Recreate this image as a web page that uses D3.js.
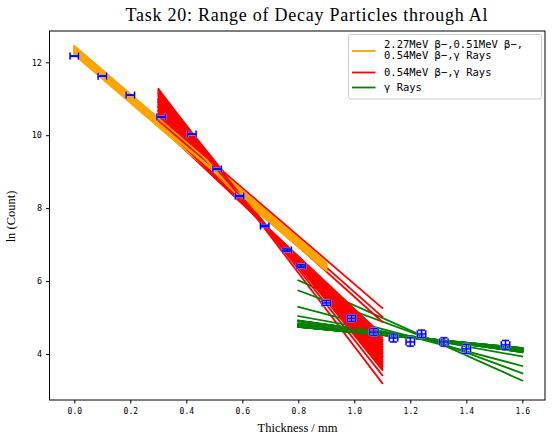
<!DOCTYPE html>
<html><head><meta charset="utf-8">
<script src="https://cdn.jsdelivr.net/npm/d3@7"></script>
<style>html,body{margin:0;padding:0;background:#fff;}</style>
</head><body>
<svg id="chart" width="555" height="446"></svg>
<script>
// ---- data ----
const thickness = [0.00,0.10,0.20,0.31,0.42,0.51,0.59,0.68,0.76,0.81,0.90,0.99,1.07,1.14,1.20,1.24,1.32,1.40,1.54];
const lnCount   = [12.17,11.62,11.10,10.50,10.03,9.07,8.33,7.51,6.85,6.41,5.40,4.98,4.60,4.44,4.33,4.55,4.33,4.14,4.25];
const xErr      = [0.015,0.015,0.015,0.015,0.015,0.015,0.015,0.015,0.015,0.015,0.015,0.015,0.015,0.015,0.015,0.015,0.015,0.015,0.015];
const yErr      = [0.002,0.003,0.004,0.005,0.007,0.011,0.016,0.023,0.033,0.041,0.067,0.083,0.10,0.11,0.115,0.103,0.115,0.126,0.12];

// fit-line samples: value at start and end of each fit range
const orangeRange = [0.0, 0.9];
const orangeStart = [12.45,12.40,12.36,12.33,12.30,12.28,12.26,12.24,12.22,12.38,12.34,12.31,12.29,12.27,12.25,12.43,12.35,12.32,12.30,12.28,12.37,12.26,12.33,12.29,12.41,12.23,12.31,12.35,12.27,12.39,12.30,12.34,12.21,12.44,12.32,12.29];
const orangeEnd   = [6.50,6.46,6.42,6.39,6.36,6.34,6.31,6.30,6.28,6.43,6.40,6.36,6.33,6.33,6.30,6.48,6.41,6.38,6.35,6.32,6.42,6.31,6.39,6.34,6.47,6.29,6.37,6.40,6.31,6.44,6.36,6.38,6.28,6.51,6.37,6.35];

const redRange = [0.3, 1.1];
const redStart = [11.27,11.18,11.22,11.10,11.05,10.98,10.92,10.88,10.84,10.80,10.76,10.72,10.68,10.64,10.60,10.56,10.52,10.48,10.44,10.40,10.36,10.32,10.28,10.53,10.45,10.40,11.00,10.90,10.78,10.66,10.58,10.50,10.46,10.38,11.14,10.95];
const redEnd   = [3.20,3.42,3.56,3.62,3.70,3.74,3.80,3.86,3.90,3.95,3.98,4.02,4.06,4.10,4.14,4.18,4.22,4.26,4.30,4.35,4.40,4.46,4.52,5.26,5.02,4.88,3.66,3.84,3.93,4.04,4.12,4.20,4.28,4.38,3.58,3.78];

const greenRange = [0.8, 1.6];
const greenStart = [6.02,5.74,5.29,5.04,4.91,4.91,4.90,4.82,4.83,4.82,4.81,4.76,4.75,4.76,4.75,4.74,4.82,4.91,4.90,4.83,4.76,4.75,4.92,4.76,4.82,4.81,4.90,4.75,4.76,4.83,4.74,4.82,4.91,4.75,4.81,4.75];
const greenEnd   = [3.27,3.47,3.67,3.93,4.05,4.06,4.07,4.08,4.10,4.11,4.12,4.13,4.14,4.15,4.16,4.14,4.09,4.06,4.07,4.10,4.13,4.15,4.05,4.16,4.09,4.11,4.06,4.15,4.14,4.10,4.16,4.11,4.05,4.14,4.12,4.16];

const xTicks = [0.0,0.2,0.4,0.6,0.8,1.0,1.2,1.4,1.6];
const yTicks = [4,6,8,10,12];

const legendItems = [
  {color:"#ffa500", lines:["2.27MeV β−,0.51MeV β−,","0.54MeV β−,γ Rays"]},
  {color:"#ff0000", lines:["0.54MeV β−,γ Rays"]},
  {color:"#008000", lines:["γ Rays"]}
];

// ---- layout ----
const L = 49.5, R = 545, T = 31, B = 400;
const x = d3.scaleLinear().domain([-0.0886, 1.681]).range([L, R]);
const y = d3.scaleLinear().domain([2.738, 12.858]).range([B, T]);

const svg = d3.select("#chart");
const mono = "'DejaVu Sans Mono', monospace";
const serif = "'Liberation Serif', 'Times New Roman', serif";

// fit lines interleaved per sample
const gLines = svg.append("g").attr("fill","none").attr("stroke-width",1.8).attr("stroke-linecap","square");
const n = orangeStart.length;
for (let i = 0; i < n; i++) {
  gLines.append("line")
    .attr("x1", x(orangeRange[0])).attr("y1", y(orangeStart[i]))
    .attr("x2", x(orangeRange[1])).attr("y2", y(orangeEnd[i]))
    .attr("stroke", "#ffa500");
  gLines.append("line")
    .attr("x1", x(redRange[0])).attr("y1", y(redStart[i]))
    .attr("x2", x(redRange[1])).attr("y2", y(redEnd[i]))
    .attr("stroke", "#ff0000");
  gLines.append("line")
    .attr("x1", x(greenRange[0])).attr("y1", y(greenStart[i]))
    .attr("x2", x(greenRange[1])).attr("y2", y(greenEnd[i]))
    .attr("stroke", "#008000");
}

// error bars
const cap = 3.5;
const pts = thickness.map((t,i)=>({x:t,y:lnCount[i],xe:xErr[i],ye:yErr[i]}));
function drawErr(g, color, w) {
  pts.forEach(p => {
    const cx = x(p.x), cy = y(p.y);
    const x0 = x(p.x - p.xe), x1 = x(p.x + p.xe);
    const y0 = y(p.y - p.ye), y1 = y(p.y + p.ye);
    const segs = [
      [x0,cy,x1,cy],[x0,cy-cap,x0,cy+cap],[x1,cy-cap,x1,cy+cap],
      [cx,y0,cx,y1],[cx-cap,y0,cx+cap,y0],[cx-cap,y1,cx+cap,y1]
    ];
    segs.forEach(s => g.append("line").attr("x1",s[0]).attr("y1",s[1]).attr("x2",s[2]).attr("y2",s[3])
      .attr("stroke",color).attr("stroke-width",w));
  });
}
drawErr(svg.append("g"), "#a8a8ff", 2.2);
drawErr(svg.append("g"), "#0000ff", 1.3);

// frame
svg.append("rect").attr("x",L).attr("y",T).attr("width",R-L).attr("height",B-T)
  .attr("fill","none").attr("stroke","#000").attr("stroke-width",1);

// axes
const xAxis = d3.axisBottom(x).tickValues(xTicks).tickFormat(d3.format(".1f")).tickSize(3.5).tickPadding(5);
const gx = svg.append("g").attr("transform",`translate(0,${B})`).call(xAxis);
gx.select(".domain").remove();
gx.selectAll("text").attr("font-family",mono).attr("font-size","8px").attr("fill","#000");
gx.selectAll("line").attr("stroke","#000");

const yAxis = d3.axisLeft(y).tickValues(yTicks).tickFormat(d3.format("d")).tickSize(3.5).tickPadding(4);
const gy = svg.append("g").attr("transform",`translate(${L},0)`).call(yAxis);
gy.select(".domain").remove();
gy.selectAll("text").attr("font-family",mono).attr("font-size","8.5px").attr("fill","#000");
gy.selectAll("line").attr("stroke","#000");

// labels
svg.append("text").attr("x",306.5).attr("y",20.5).attr("text-anchor","middle")
  .attr("font-family",serif).attr("font-size","18px")
  .attr("textLength",362).attr("lengthAdjust","spacing")
  .text("Task 20: Range of Decay Particles through Al");
svg.append("text").attr("x",297.5).attr("y",432).attr("text-anchor","middle")
  .attr("font-family",serif).attr("font-size","12.5px").text("Thickness / mm");
svg.append("text").attr("transform","translate(15,216.5) rotate(-90)").attr("text-anchor","middle")
  .attr("font-family",serif).attr("font-size","12.5px").text("ln (Count)");

// legend
const lg = svg.append("g");
lg.append("rect").attr("x",348.5).attr("y",34.5).attr("width",193).attr("height",64.5).attr("rx",2.5)
  .attr("fill","#fff").attr("fill-opacity",0.8).attr("stroke","#cccccc").attr("stroke-width",1);
const entryY = [{ty:[47.5,58.5], ly:51}, {ty:[76], ly:72.5}, {ty:[91], ly:87.5}];
legendItems.forEach((it,i) => {
  lg.append("line").attr("x1",352).attr("x2",375.5).attr("y1",entryY[i].ly).attr("y2",entryY[i].ly)
    .attr("stroke",it.color).attr("stroke-width",1.8);
  it.lines.forEach((t,j) => {
    lg.append("text").attr("x",384).attr("y",entryY[i].ty[j]).attr("font-family",mono)
      .attr("font-size","10.5px").text(t);
  });
});
</script>
</body></html>
